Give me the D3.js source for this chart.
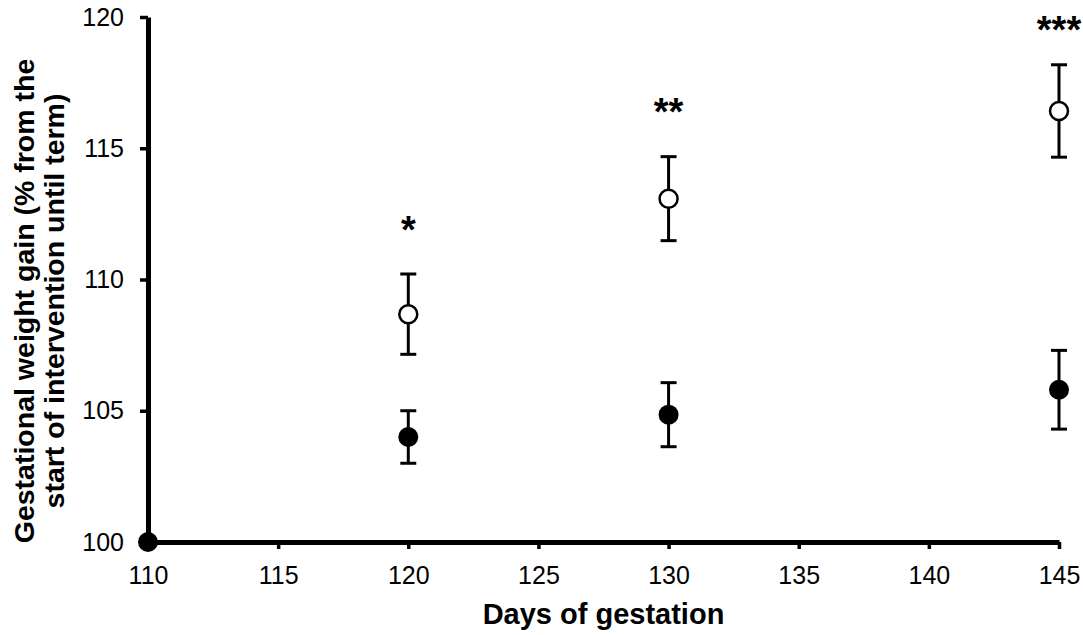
<!DOCTYPE html>
<html>
<head>
<meta charset="utf-8">
<script src="https://cdn.jsdelivr.net/npm/d3@7"></script>
<style>
  body { margin: 0; background: #fff; }
  svg { display: block; font-family: "Liberation Sans", Arial, sans-serif; }
</style>
</head>
<body>
<svg id="chart" width="1083" height="635"></svg>
<script>
// control group (filled) and treated group (open), mean and SEM
const controlDays = [110, 120, 130, 145];
const controlMean = [100, 104.0, 104.85, 105.8];
const controlSem = [0, 1.0, 1.22, 1.5];

const treatDays = [120, 130, 145];
const treatMean = [108.68, 113.08, 116.42];
const treatSem = [1.53, 1.6, 1.76];

const starLabels = ["*", "**", "***"];
const starValues = [112.2, 116.7, 119.8];

const xTicks = [110, 115, 120, 125, 130, 135, 140, 145];
const yTicks = [100, 105, 110, 115, 120];

const svg = d3.select("#chart");
const margin = { top: 17, right: 24, bottom: 93, left: 148 };
const width = 1083 - margin.left - margin.right;
const height = 635 - margin.top - margin.bottom;

const x = d3.scaleLinear().domain([110, 145]).range([0, width]);
const y = d3.scaleLinear().domain([100, 120]).range([height, 0]);

const g = svg.append("g")
    .attr("transform", "translate(" + margin.left + "," + margin.top + ")");

// axes
const xAxis = g.append("g")
    .attr("transform", "translate(0," + height + ")")
    .call(d3.axisBottom(x).tickValues(xTicks).tickSize(7).tickSizeOuter(0).tickPadding(17));

const yAxis = g.append("g")
    .call(d3.axisLeft(y).tickValues(yTicks).tickSize(8).tickSizeOuter(0).tickPadding(16));

[xAxis, yAxis].forEach(function(ax) {
    ax.select(".domain").attr("stroke", "#000").attr("stroke-width", 5);
    ax.selectAll(".tick line").attr("stroke", "#000").attr("stroke-width", 3.5);
    ax.selectAll(".tick text")
        .attr("fill", "#000")
        .style("font-size", "25px")
        .style("font-family", "'Liberation Sans', Arial, sans-serif");
});

// error bars
function drawErrors(days, mean, sem) {
    const data = days.map((d, i) => ({ day: d, mean: mean[i], sem: sem[i] })).filter(d => d.sem > 0);
    const eg = g.append("g").attr("stroke", "#000").attr("stroke-width", 3);
    eg.selectAll(".stem").data(data).enter().append("line")
        .attr("x1", d => x(d.day)).attr("x2", d => x(d.day))
        .attr("y1", d => y(d.mean + d.sem)).attr("y2", d => y(d.mean - d.sem));
    eg.selectAll(".capTop").data(data).enter().append("line")
        .attr("x1", d => x(d.day) - 8).attr("x2", d => x(d.day) + 8)
        .attr("y1", d => y(d.mean + d.sem)).attr("y2", d => y(d.mean + d.sem));
    eg.selectAll(".capBot").data(data).enter().append("line")
        .attr("x1", d => x(d.day) - 8).attr("x2", d => x(d.day) + 8)
        .attr("y1", d => y(d.mean - d.sem)).attr("y2", d => y(d.mean - d.sem));
}
drawErrors(controlDays, controlMean, controlSem);
drawErrors(treatDays, treatMean, treatSem);

// points
g.selectAll(".ctrl")
    .data(controlDays)
    .enter().append("circle")
    .attr("cx", d => x(d))
    .attr("cy", (d, i) => y(controlMean[i]))
    .attr("r", 10)
    .attr("fill", "#000");

g.selectAll(".treat")
    .data(treatDays)
    .enter().append("circle")
    .attr("cx", d => x(d))
    .attr("cy", (d, i) => y(treatMean[i]))
    .attr("r", 9)
    .attr("fill", "#fff")
    .attr("stroke", "#000")
    .attr("stroke-width", 2.5);

// significance stars
g.selectAll(".star")
    .data(treatDays)
    .enter().append("text")
    .attr("x", d => x(d))
    .attr("y", (d, i) => y(starValues[i]) + 21)
    .attr("text-anchor", "middle")
    .style("font-size", "38px")
    .style("font-weight", "bold")
    .text((d, i) => starLabels[i]);

// axis titles
svg.append("text")
    .attr("x", margin.left + width / 2)
    .attr("y", 624)
    .attr("text-anchor", "middle")
    .style("font-size", "29px")
    .style("font-weight", "bold")
    .text("Days of gestation");

const yTitle = svg.append("text")
    .attr("transform", "translate(0,301) rotate(-90)")
    .attr("text-anchor", "middle")
    .style("font-size", "28.5px")
    .style("font-weight", "bold");
yTitle.append("tspan").attr("x", 0).attr("y", 34).text("Gestational weight gain (% from the");
yTitle.append("tspan").attr("x", 0).attr("y", 64).text("start of intervention until term)");
</script>
</body>
</html>
